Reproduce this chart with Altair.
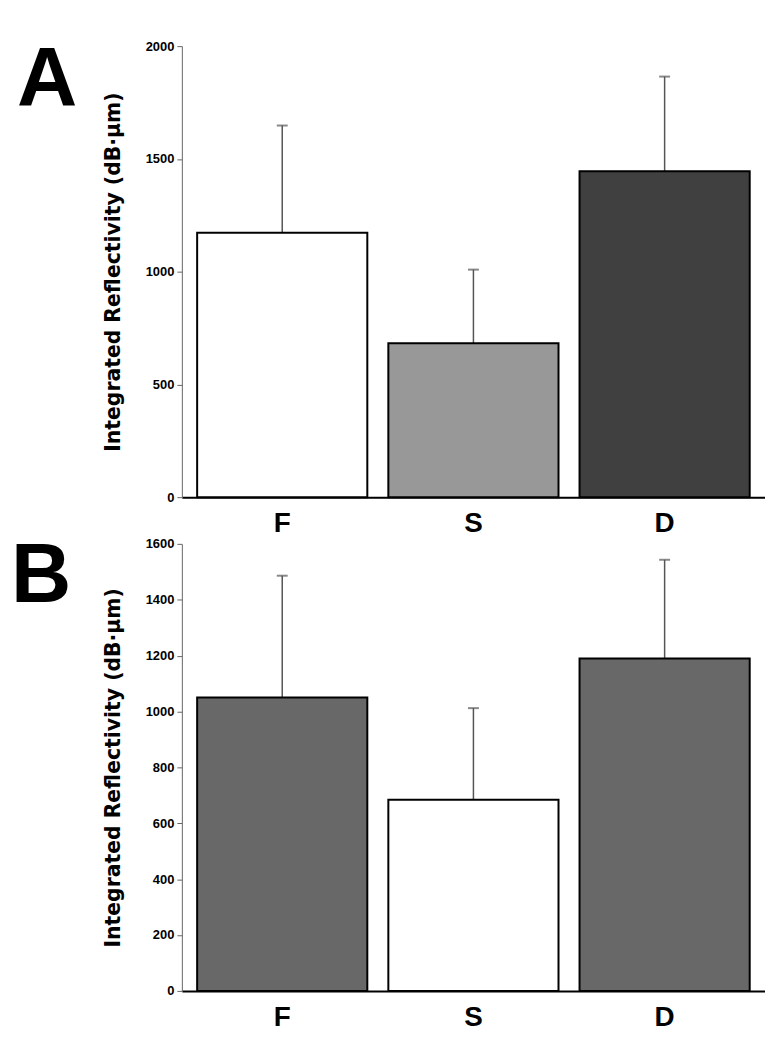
import altair as alt
import pandas as pd

categories = ["F", "S", "D"]
a_means = [1172, 683, 1445]
a_errors = [476, 326, 420]
b_means = [1050, 684, 1190]
b_errors = [436, 328, 353]
a_colors = ["#ffffff", "#989898", "#404040"]
b_colors = ["#686868", "#ffffff", "#686868"]
a_ticks = [0, 500, 1000, 1500, 2000]
b_ticks = [0, 200, 400, 600, 800, 1000, 1200, 1400, 1600]
y_title = "Integrated Reflectivity (dB·μm)"

FONT = "Liberation Sans"
TITLE_FONT = "DejaVu Sans"
PLOT_W = 587


def panel(means, errors, colors, ticks, letter, letter_x, letter_y, height):
    df = pd.DataFrame({
        "cat": categories,
        "mean": means,
        "upper": [m + e for m, e in zip(means, errors)],
    })
    base = alt.Chart(df)
    x_axis = alt.Axis(
        title=None, labelAngle=0, ticks=False, labelFont=FONT,
        labelFontSize=28, labelFontWeight="bold", labelColor="black",
        labelPadding=13, domainColor="black", domainWidth=2,
    )
    x_scale = alt.Scale(paddingInner=0.11, paddingOuter=0.08)
    x = alt.X("cat:N", sort=categories, scale=x_scale, axis=x_axis)
    y_axis = alt.Axis(
        values=ticks, format="d", title=y_title, grid=False,
        labelFont=FONT, labelFontSize=13, labelFontWeight="bold",
        labelColor="black", labelPadding=3,
        tickColor="#666666", tickSize=5, domainColor="#666666",
        titleFont=TITLE_FONT, titleFontSize=20.5, titleFontWeight="bold",
        titleColor="black", titleX=-69, titleY=height / 2,
        titleBaseline="middle", titleAngle=270,
    )
    y_scale = alt.Scale(domain=[ticks[0], ticks[-1]], nice=False)
    bars = base.mark_bar(stroke="black", strokeWidth=2).encode(
        x=x,
        y=alt.Y("mean:Q", scale=y_scale, axis=y_axis),
        color=alt.Color("cat:N", scale=alt.Scale(domain=categories, range=colors), legend=None),
    )
    rule = base.mark_rule(color="#555555", strokeWidth=1.5).encode(
        x=x, y=alt.Y("mean:Q", scale=y_scale, axis=y_axis), y2="upper:Q"
    )
    cap = base.mark_tick(color="#555555", size=11, thickness=2).encode(
        x=x, y=alt.Y("upper:Q", scale=y_scale, axis=y_axis)
    )
    lab = alt.Chart(pd.DataFrame({"t": [letter]})).mark_text(
        font=FONT, fontSize=84, fontWeight="bold", align="left",
        baseline="alphabetic", color="black",
    ).encode(text="t:N", x=alt.value(letter_x), y=alt.value(letter_y))
    return alt.layer(rule, bars, cap, lab).properties(
        width=PLOT_W, height=height,
        view=alt.ViewBackground(strokeOpacity=0, strokeWidth=0),
    )


pa = panel(a_means, a_errors, a_colors, a_ticks, "A", -166, 60, 454)
pb = panel(b_means, b_errors, b_colors, b_ticks, "B", -172, 59, 450)

chart = (
    alt.vconcat(pa, pb, spacing=47, bounds="flush")
    .resolve_scale(color="independent", y="independent")
    .properties(padding={"left": 3, "top": 28, "right": 0, "bottom": 0})
    .configure_view(strokeOpacity=0, strokeWidth=0)
    .configure(background="white")
)

chart.save("out.html", embed_options={"renderer": "svg", "actions": False})
